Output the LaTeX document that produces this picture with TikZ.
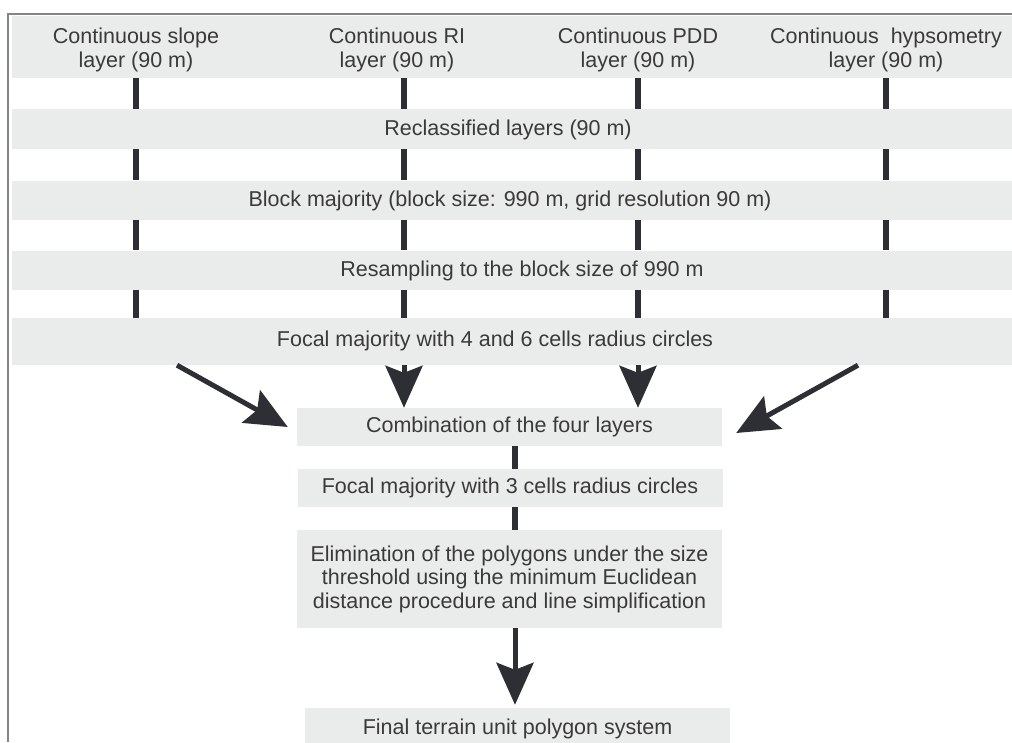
\documentclass[tikz,border=0pt]{standalone}
\usepackage{fontspec}
\setmainfont{Liberation Sans}
\usetikzlibrary{arrows.meta,calc}
\definecolor{bandfill}{HTML}{EAEBEB}
\definecolor{ink}{HTML}{2D2F35}
\definecolor{txt}{HTML}{3A3A3A}
\definecolor{framec}{HTML}{858585}
\begin{document}
\begin{tikzpicture}[x=1pt,y=-1pt,
  band/.style={fill=bandfill, draw=none, inner sep=0pt, minimum width=1000pt, minimum height=#1},
  box/.style={fill=bandfill, draw=none, inner sep=0pt, minimum width=425pt, minimum height=#1},
  lbl/.style={text=txt, inner sep=0pt, align=center, font=\fontsize{21.5}{23.5}\selectfont},
  tick/.style={draw=ink, line width=6pt},
  bigarrow/.style={draw=ink, fill=ink, line width=5pt, -{Stealth[length=42pt,width=37pt,inset=7pt]}}]
\clip (0,0) rectangle (1012,742);
\fill[white] (0,0) rectangle (1012,742);
% frame
\draw[framec, line width=2pt] (8,742) -- (8,14) -- (1012,14);
% bands
\node[band=62pt] (b1) at (512,47) {};
\node[band=40pt] (b2) at (512,129) {};
\node[band=39pt] (b3) at (512,200) {};
\node[band=39pt] (b4) at (512,270) {};
\node[band=47pt] (b5) at (512,341.5) {};
% band texts
\node[lbl] (s1) at (136,50) {Continuous slope\\layer (90 m)};
\node[lbl] (s2) at (397,50) {Continuous RI\\layer (90 m)};
\node[lbl] (s3) at (638,50) {Continuous PDD\\layer (90 m)};
\node[lbl] (s4) at (886,50) {Continuous\ \ hypsometry\\layer (90 m)};
\node[lbl] (t2) at (508,130) {Reclassified layers (90 m)};
\node[lbl] (t3) at (510,201) {Block majority (block size: 990 m, grid resolution 90 m)};
\node[lbl] (t4) at (522,271) {Resampling to the block size of 990 m};
\node[lbl] (t5) at (495,341) {Focal majority with 4 and 6 cells radius circles};
% lower boxes
\node[box=38pt, lbl] (comb) at (509.5,427) {Combination of the four layers};
\node[box=38pt, lbl] (foc) at (510,488) {Focal majority with 3 cells radius circles};
\node[box=98pt, lbl] (elim) at (509.5,579) {Elimination of the polygons under the size\\threshold using the minimum Euclidean\\distance procedure and line simplification};
\node[box=42pt, lbl] (fin) at (517.5,729) {Final terrain unit polygon system};
% column positions
\coordinate (c1) at (136,0);
\coordinate (c2) at (404,0);
\coordinate (c3) at (638,0);
\coordinate (c4) at (886,0);
\coordinate (cm) at (515,0);
% ticks between bands
\foreach \c in {c1,c2,c3,c4}{
  \draw[tick] (b1.south -| \c) -- (b2.north -| \c);
  \draw[tick] (b2.south -| \c) -- (b3.north -| \c);
  \draw[tick] (b3.south -| \c) -- (b4.north -| \c);
  \draw[tick] (b4.south -| \c) -- (b5.north -| \c);
}
% arrows into combination
\coordinate (a1) at (177,0);
\coordinate (a4) at (858,0);
\draw[bigarrow] (b5.south -| a1) -- ($(comb.west)+(-9,0)$);
\draw[bigarrow] (b5.south -| c2) -- (comb.north -| c2);
\draw[bigarrow] (b5.south -| c3) -- (comb.north -| c3);
\draw[bigarrow] (b5.south -| a4) -- ($(comb.east)+(14,6)$);
% lower ticks
\draw[tick] (comb.south -| cm) -- (foc.north -| cm);
\draw[tick] (foc.south -| cm) -- (elim.north -| cm);
\draw[bigarrow] (elim.south -| cm) -- ($(fin.north -| cm)+(0,-3)$);
\end{tikzpicture}
\end{document}
